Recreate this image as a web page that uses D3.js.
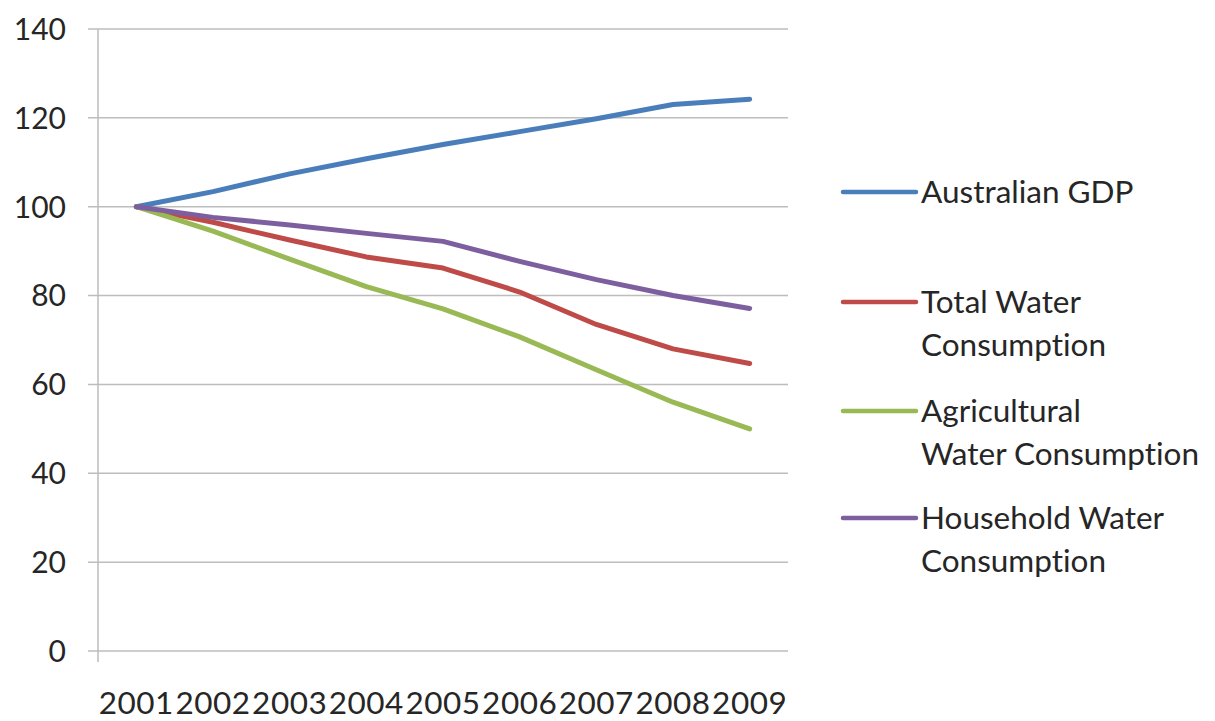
<!DOCTYPE html>
<html>
<head>
<meta charset="utf-8">
<script src="https://cdn.jsdelivr.net/npm/d3@7/dist/d3.min.js"></script>
<style>
    body { margin: 0; background: #fff; }
    svg text { font-family: Lato, "Open Sans", sans-serif; fill: #262626; font-variant-ligatures: none; }
</style>
</head>
<body>
<div id="chart"></div>
<script>
'use strict';

// values (index, 2001 = 100)
const years = ['2001', '2002', '2003', '2004', '2005', '2006', '2007', '2008', '2009'];
const yTicks = [0, 20, 40, 60, 80, 100, 120, 140];

const gdp = [100, 103.4, 107.4, 110.8, 114, 116.9, 119.8, 123, 124.2];
const totalWater = [100, 96.5, 92.5, 88.7, 86.2, 80.8, 73.5, 68, 64.7];
const agriWater = [100, 94.5, 88.2, 82, 77, 70.7, 63.3, 56, 50];
const householdWater = [100, 97.6, 95.9, 94, 92.2, 87.7, 83.6, 80, 77.1];

const seriesNames = [
    ['Australian GDP'],
    ['Total Water', 'Consumption'],
    ['Agricultural', 'Water Consumption'],
    ['Household Water', 'Consumption']
];
const seriesValues = [gdp, totalWater, agriWater, householdWater];
const seriesColors = ['#4a7ebb', '#be4b48', '#98b954', '#7d5fa0'];

const width = 1215, height = 721;
const margin = {top: 29, left: 98, right: 427, bottom: 70};
const fontSize = 30;
const bigFont = 31.5;

let svg = d3.select('#chart').append('svg')
    .attr('width', width)
    .attr('height', height);

let x = d3.scalePoint()
    .domain(years)
    .range([margin.left, width - margin.right])
    .padding(0.5);

let y = d3.scaleLinear()
    .domain([0, 140])
    .range([height - margin.bottom, margin.top]);

// gridlines + left tick marks
svg.append('g').selectAll('line').data(yTicks).enter().append('line')
    .attr('x1', margin.left - 10)
    .attr('x2', width - margin.right)
    .attr('y1', function (d) { return y(d); })
    .attr('y2', function (d) { return y(d); })
    .style('stroke', '#bdbdbd')
    .style('stroke-width', 1.5);

// value axis line, running a bit below zero like the category tick
svg.append('line')
    .attr('x1', margin.left).attr('x2', margin.left)
    .attr('y1', y(140))
    .attr('y2', y(0) + 11)
    .style('stroke', '#bdbdbd')
    .style('stroke-width', 1.5);

svg.append('g').selectAll('text').data(yTicks).enter().append('text')
    .text(function (d) { return d; })
    .attr('x', 66)
    .attr('y', function (d) { return y(d) + fontSize * 0.36; })
    .style('font-size', fontSize + 'px')
    .style('text-anchor', 'end');

svg.append('g').selectAll('text').data(years).enter().append('text')
    .text(function (d) { return d; })
    .attr('x', function (d) { return x(d); })
    .attr('y', 714)
    .style('font-size', bigFont + 'px')
    .style('letter-spacing', '0.5px')
    .style('text-anchor', 'middle');

let line = d3.line()
    .x(function (d, i) { return x(years[i]); })
    .y(function (d) { return y(d); });

svg.append('g').selectAll('path').data(seriesValues).enter().append('path')
    .attr('d', function (d) { return line(d); })
    .style('fill', 'none')
    .style('stroke', function (d, i) { return seriesColors[i]; })
    .style('stroke-width', 5)
    .style('stroke-linejoin', 'round')
    .style('stroke-linecap', 'round');

// legend
const legendRows = [192, 302, 411, 518];
const legendLineGap = 43;

let legend = svg.append('g').selectAll('g').data(seriesNames).enter().append('g')
    .attr('transform', function (d, i) { return 'translate(0,' + legendRows[i] + ')'; });

legend.append('line')
    .attr('x1', 843).attr('x2', 916)
    .attr('y1', 0).attr('y2', 0)
    .style('stroke', function (d, i) { return seriesColors[i]; })
    .style('stroke-width', 4.5)
    .style('stroke-linecap', 'round');

legend.each(function (names) {
    let g = d3.select(this);
    names.forEach(function (name, k) {
        g.append('text')
            .text(name)
            .attr('x', 921)
            .attr('y', k * legendLineGap + bigFont * 0.36)
            .style('font-size', bigFont + 'px');
    });
});
</script>
</body>
</html>
